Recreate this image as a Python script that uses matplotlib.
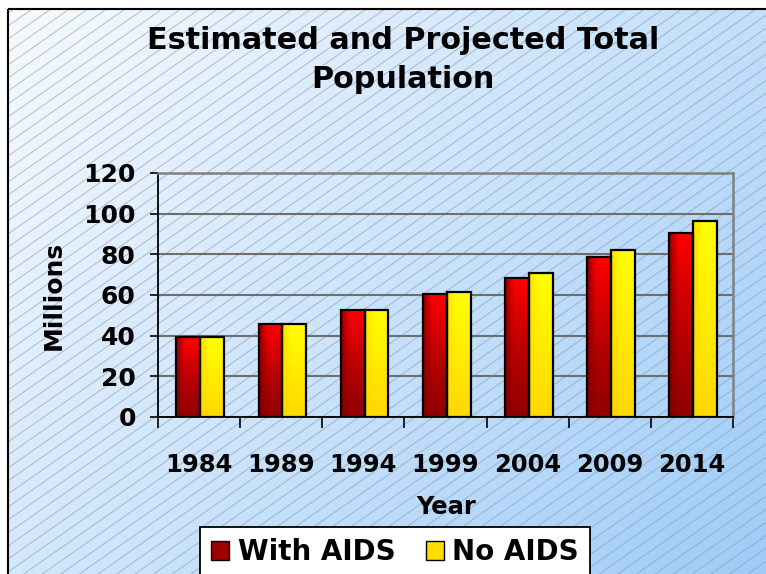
import numpy as np
import matplotlib
matplotlib.use("Agg")
import matplotlib.pyplot as plt
from matplotlib.patches import Rectangle, Patch

years = ["1984", "1989", "1994", "1999", "2004", "2009", "2014"]
with_aids = [39.2, 45.6, 52.5, 60.3, 68.2, 78.5, 90.3]
no_aids = [39.2, 45.6, 52.5, 61.3, 70.7, 82.0, 96.2]
yticks = [0, 20, 40, 60, 80, 100, 120]

W, H = 766, 574
fig = plt.figure(figsize=(W / 100, H / 100), dpi=100)
fig.patch.set_facecolor("white")

# background
bg = fig.add_axes([0, 0, 1, 1], zorder=-5)
bg.set_xlim(0, W)
bg.set_ylim(H, 0)
bg.axis("off")
yy, xx = np.mgrid[0:1:200j, 0:1:260j]
t = np.clip((xx * 0.6 + yy * 0.4), 0, 1)
c0 = np.array([0.97, 0.98, 1.0])
c1 = np.array([0.62, 0.80, 0.97])
img = c0[None, None, :] * (1 - t[..., None]) + c1[None, None, :] * t[..., None]
bg.imshow(img, extent=[8, W + 2, H + 2, 9], aspect="auto", zorder=0)
clip = Rectangle((8, 9), W, H, transform=bg.transData, facecolor="none", lw=0)
bg.add_patch(clip)
slope = np.tan(np.radians(35))
xs = np.array([8, W + 2])
for y0 in np.arange(0, H + W * slope + 20, 13):
    ln, = bg.plot(xs, y0 - slope * (xs - 8), color="#8a98ac", lw=0.6,
                  alpha=0.7, zorder=1)
    ln.set_clip_path(clip)
bg.add_patch(Rectangle((8, 9), W, H, facecolor="none", edgecolor="black",
                       lw=1.5, zorder=2))
bg.set_xlim(0, W)
bg.set_ylim(H, 0)

fig.text(403 / W, 1 - 60 / H, "Estimated and Projected Total\nPopulation",
         ha="center", va="center", fontsize=21.8, fontweight="bold",
         linespacing=1.45)

ax = fig.add_axes([158 / W, 1 - 417 / H, 575 / W, 244 / H])
ax.patch.set_alpha(0)

width = 0.29
x = np.arange(len(years))


def grad_img(kind):
    ny, nx = 100, 40
    v = np.linspace(1, 0, ny)[:, None]  # top=1
    h = np.linspace(0, 1, nx)[None, :]
    hx = np.clip(h / 0.4, 0, 1) ** 0.7
    if kind == "red":
        dark = np.array([0.50, 0.0, 0.0])
        bright = np.array([1.0, 0.0, 0.0])
        f = np.clip(hx * (0.15 + 0.85 * v ** 1.3), 0, 1)
    else:
        dark = np.array([1.0, 0.78, 0.0])
        bright = np.array([1.0, 1.0, 0.0])
        f = np.clip(0.3 + 0.7 * hx * v, 0, 1)
    return dark * (1 - f[..., None]) + bright * f[..., None]


red_img = grad_img("red")
yel_img = grad_img("yel")
for i in range(len(years)):
    xr = x[i] - width / 2 + 0.015
    xy = x[i] + width / 2 + 0.015
    for xc, val, im in ((xr, with_aids[i], red_img), (xy, no_aids[i], yel_img)):
        ax.imshow(im, extent=[xc - width / 2, xc + width / 2, 0, val],
                  aspect="auto", zorder=3, interpolation="bilinear")
        ax.bar(xc, val, width=width, facecolor="none", edgecolor="black",
               lw=1.6, zorder=4)

ax.set_xlim(-0.5, len(years) - 0.5)
ax.set_ylim(0, 120)
ax.set_yticks(yticks)
ax.set_yticklabels([str(v) for v in yticks], fontsize=18, fontweight="bold")
ax.set_xticks(x)
ax.set_xticklabels(years, fontsize=17.5, fontweight="bold")
ax.set_xticks(np.arange(-0.5, len(years), 1), minor=True)
ax.tick_params(axis="x", which="major", length=0, pad=26)
ax.tick_params(axis="x", which="minor", length=8, width=1.2, direction="out")
ax.tick_params(axis="y", length=6, width=1.2, pad=10)
ax.grid(axis="y", color="#6e6e6e", lw=1.5, zorder=1)
ax.set_axisbelow(True)
for s in ("top", "right"):
    ax.spines[s].set_color("#808080")
    ax.spines[s].set_linewidth(1.8)
for s in ("left", "bottom"):
    ax.spines[s].set_color("black")
    ax.spines[s].set_linewidth(1.3)

ax.set_ylabel("Millions", fontsize=18, fontweight="bold")
ax.yaxis.set_label_coords((66 - 158) / 575, 0.5)
fig.text(446 / W, 1 - 507 / H, "Year", ha="center", va="center",
         fontsize=17.5, fontweight="bold")

# legend
handles = [Patch(facecolor="#a00000", edgecolor="black", label="With AIDS"),
           Patch(facecolor="#ffdd00", edgecolor="black", label="No AIDS")]
leg = fig.legend(handles=handles, loc="upper left",
                 bbox_to_anchor=(200 / W, 1 - 527 / H), ncol=2,
                 prop={"size": 20, "weight": "bold"}, frameon=True,
                 fancybox=False, edgecolor="black", framealpha=1,
                 handlelength=0.65, handleheight=0.65, handletextpad=0.3,
                 columnspacing=1.1, borderpad=0.4, borderaxespad=0)
leg.get_frame().set_linewidth(1.3)

fig.savefig("out.png", dpi=100)
